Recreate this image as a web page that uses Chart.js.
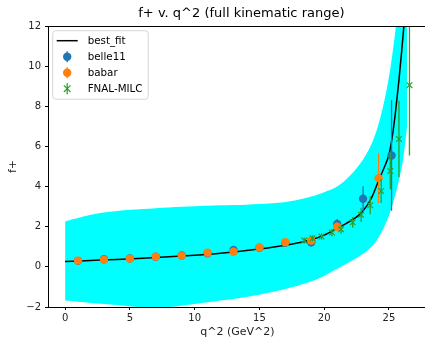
<!DOCTYPE html>
<html>
<head>
<meta charset="utf-8">
<script src="https://cdn.jsdelivr.net/npm/chart.js@4.4.1/dist/chart.umd.min.js"></script>
<style>
  html, body { margin: 0; padding: 0; background: #fff; overflow: hidden; }
  #wrap { width: 432px; height: 340px; }
</style>
</head>
<body>
<div id="wrap"><canvas id="myChart" width="432" height="340"></canvas></div>
<script>
// best fit curve and its uncertainty band
const fitQ2 = [0, 2, 4, 6, 8, 10, 12, 14, 16, 17, 18, 19, 20, 21, 22, 22.7, 23.3, 23.7, 24.23, 24.6, 25.0, 25.26, 25.5, 25.77, 26.0, 26.15, 26.3];
const fitF = [0.27, 0.32, 0.37, 0.43, 0.50, 0.58, 0.68, 0.82, 0.98, 1.08, 1.20, 1.35, 1.58, 1.92, 2.28, 2.59, 3.05, 3.5, 4.35, 4.9, 5.6, 6.5, 7.7, 9.3, 10.9, 12.0, 13.5];

const bandQ2 = [0, 2, 4, 6, 8, 10, 12, 14, 16, 17, 18, 19, 20, 21, 22, 23, 23.8, 24.4, 24.9, 25.2, 25.5, 25.8, 26.1, 26.4];
const bandHigh = [2.26, 2.59, 2.78, 2.88, 2.96, 3.02, 3.07, 3.10, 3.17, 3.23, 3.34, 3.50, 3.72, 4.0, 4.55, 5.35, 6.35, 7.6, 9.1, 10.3, 11.8, 13.8, 15.8, 18.0];
const bandLow = [-1.68, -1.80, -1.90, -2.02, -2.0, -1.85, -1.68, -1.50, -1.25, -1.10, -0.93, -0.72, -0.45, -0.10, 0.25, 0.65, 1.1, 1.7, 2.4, 2.95, 3.6, 4.4, 5.4, 7.0];

// measurements
const belleQ2 = [1, 3, 5, 7, 9, 11, 13, 15, 17, 19, 21, 23, 25.2];
const belleF = [0.30, 0.38, 0.42, 0.50, 0.57, 0.68, 0.84, 0.95, 1.20, 1.22, 2.14, 3.39, 5.55];
const belleErr = [0.05, 0.05, 0.05, 0.05, 0.06, 0.07, 0.08, 0.10, 0.14, 0.20, 0.25, 0.62, 2.75];

const babarQ2 = [1, 3, 5, 7, 9, 11, 13, 15, 17, 19, 21, 24.2];
const babarF = [0.31, 0.36, 0.41, 0.51, 0.56, 0.70, 0.75, 0.96, 1.23, 1.31, 2.0, 4.42];
const babarErr = [0.03, 0.03, 0.03, 0.03, 0.04, 0.05, 0.06, 0.08, 0.10, 0.12, 0.20, 1.25];

const fnalQ2 = [18.46, 19.1, 19.8, 20.6, 21.3, 22.2, 22.85, 23.55, 24.4, 25.1, 25.77, 26.58];
const fnalF = [1.31, 1.43, 1.51, 1.71, 1.87, 2.22, 2.59, 3.07, 3.78, 4.77, 6.37, 9.05];
const fnalErr = [0.15, 0.15, 0.16, 0.18, 0.22, 0.27, 0.35, 0.45, 0.6, 0.9, 1.9, 3.5];

const xTicks = [0, 5, 10, 15, 20, 25];
const yTicks = [-2, 0, 2, 4, 6, 8, 10, 12];

const pts = (xs, ys) => xs.map((x, i) => ({ x: x, y: ys[i] }));
const minus = v => String(v).replace('-', '\u2212');

Chart.defaults.font.family = "'DejaVu Sans', sans-serif";
Chart.defaults.color = '#222';

// vertical error bars, drawn under the markers of their dataset
const errorBars = {
  id: 'errorBars',
  beforeDatasetDraw(chart, args) {
    const ds = chart.data.datasets[args.index];
    if (!ds.yErr) return;
    const ctx = chart.ctx, a = chart.chartArea;
    const xs = chart.scales.x, ys = chart.scales.y;
    ctx.save();
    ctx.beginPath();
    ctx.rect(a.left, a.top, a.right - a.left, a.bottom - a.top);
    ctx.clip();
    ctx.strokeStyle = ds.borderColor;
    ctx.lineWidth = 1.3;
    ctx.beginPath();
    ds.data.forEach((p, i) => {
      const px = xs.getPixelForValue(p.x);
      ctx.moveTo(px, ys.getPixelForValue(p.y - ds.yErr[i]));
      ctx.lineTo(px, ys.getPixelForValue(p.y + ds.yErr[i]));
    });
    ctx.stroke();
    ctx.restore();
  }
};

// top/right spines, title and boxed legend like matplotlib
const frame = {
  id: 'frame',
  afterDatasetsDraw(chart) {
    const ctx = chart.ctx, a = chart.chartArea;
    ctx.save();
    ctx.strokeStyle = '#000';
    ctx.lineWidth = 1;
    ctx.beginPath();
    ctx.moveTo(a.left, a.top + 0.5);
    ctx.lineTo(a.right, a.top + 0.5);
    ctx.lineTo(a.right, a.bottom);
    ctx.stroke();
    ctx.restore();
  },
  afterDraw(chart) {
    const ctx = chart.ctx, a = chart.chartArea;
    ctx.save();
    ctx.fillStyle = '#000';
    ctx.font = "13px 'DejaVu Sans'";
    ctx.textAlign = 'center';
    ctx.textBaseline = 'middle';
    ctx.fillText('f+ v. q^2 (full kinematic range)', (a.left + a.right) / 2 + 4, 14);

    const x0 = a.left + 4.7, y0 = a.top + 4.7, w = 95.5, h = 68.5, r = 3;
    ctx.beginPath();
    ctx.moveTo(x0 + r, y0);
    ctx.arcTo(x0 + w, y0, x0 + w, y0 + h, r);
    ctx.arcTo(x0 + w, y0 + h, x0, y0 + h, r);
    ctx.arcTo(x0, y0 + h, x0, y0, r);
    ctx.arcTo(x0, y0, x0 + w, y0, r);
    ctx.closePath();
    ctx.fillStyle = 'rgba(255,255,255,0.8)';
    ctx.fill();
    ctx.strokeStyle = '#d6d6d6';
    ctx.lineWidth = 1;
    ctx.stroke();

    const items = chart.data.datasets.filter(d => d.inLegend);
    ctx.font = "10.3px 'DejaVu Sans'";
    ctx.textAlign = 'left';
    items.forEach((d, i) => {
      const cy = y0 + 10 + i * 16;
      const cx = x0 + 14.5;
      ctx.strokeStyle = d.borderColor;
      ctx.fillStyle = d.backgroundColor;
      if (d.inLegend === 'line') {
        ctx.lineWidth = 1.5;
        ctx.beginPath();
        ctx.moveTo(x0 + 4, cy);
        ctx.lineTo(x0 + 25, cy);
        ctx.stroke();
      } else {
        ctx.lineWidth = 1.3;
        ctx.beginPath();
        ctx.moveTo(cx, cy - 5.5);
        ctx.lineTo(cx, cy + 5.5);
        ctx.stroke();
        if (d.inLegend === 'dot') {
          ctx.beginPath();
          ctx.arc(cx, cy, 4.2, 0, Math.PI * 2);
          ctx.fill();
        } else {
          const s = 3.3;
          ctx.lineWidth = 1.2;
          ctx.beginPath();
          ctx.moveTo(cx - s, cy - s); ctx.lineTo(cx + s, cy + s);
          ctx.moveTo(cx - s, cy + s); ctx.lineTo(cx + s, cy - s);
          ctx.stroke();
        }
      }
      ctx.fillStyle = '#000';
      ctx.fillText(d.label, x0 + 35, cy + 0.5);
    });
    ctx.restore();
  }
};

const ctx = document.getElementById('myChart');

new Chart(ctx, {
  type: 'scatter',
  data: {
    datasets: [
      {
        label: 'best_fit',
        data: pts(fitQ2, fitF),
        showLine: true,
        borderColor: '#000',
        backgroundColor: '#000',
        borderWidth: 1.5,
        pointRadius: 0,
        cubicInterpolationMode: 'monotone',
        order: 4,
        inLegend: 'line',
      },
      {
        label: 'belle11',
        data: pts(belleQ2, belleF),
        yErr: belleErr,
        borderColor: '#1f77b4',
        backgroundColor: '#1f77b4',
        pointRadius: 4.2,
        pointBorderWidth: 0,
        order: 3,
        inLegend: 'dot',
      },
      {
        label: 'babar',
        data: pts(babarQ2, babarF),
        yErr: babarErr,
        borderColor: '#ff7f0e',
        backgroundColor: '#ff7f0e',
        pointRadius: 4.2,
        pointBorderWidth: 0,
        order: 2,
        inLegend: 'dot',
      },
      {
        label: 'FNAL-MILC',
        data: pts(fnalQ2, fnalF),
        yErr: fnalErr,
        borderColor: '#2ca02c',
        backgroundColor: '#2ca02c',
        pointStyle: 'crossRot',
        pointRadius: 4,
        pointBorderWidth: 1.2,
        order: 1,
        inLegend: 'cross',
      },
      {
        label: 'band_high',
        data: pts(bandQ2, bandHigh),
        showLine: true,
        borderWidth: 0,
        borderColor: 'rgba(0,0,0,0)',
        pointRadius: 0,
        tension: 0.35,
        fill: false,
        order: 5,
      },
      {
        label: 'band_low',
        data: pts(bandQ2, bandLow),
        showLine: true,
        borderWidth: 0,
        borderColor: 'rgba(0,0,0,0)',
        backgroundColor: '#00ffff',
        pointRadius: 0,
        tension: 0.35,
        fill: '-1',
        order: 6,
      },
    ],
  },
  options: {
    responsive: false,
    devicePixelRatio: 1,
    animation: false,
    layout: { padding: { top: 26, right: 4, left: 0, bottom: 0 } },
    plugins: {
      legend: { display: false },
      tooltip: { enabled: false },
      title: { display: false },
    },
    scales: {
      x: {
        type: 'linear',
        min: -1.32,
        max: 27.92,
        afterFit: s => { s.height = 33; },
        afterBuildTicks: s => { s.ticks = xTicks.map(v => ({ value: v })); },
        ticks: { includeBounds: false, padding: 2, font: { size: 10 }, color: '#222', callback: minus, maxRotation: 0 },
        grid: { drawOnChartArea: false, drawTicks: true, tickLength: 3, tickColor: '#000' },
        border: { display: true, color: '#000', width: 1 },
        title: { display: true, text: 'q^2 (GeV^2)', font: { size: 11 }, color: '#222', padding: { top: 0, bottom: 1 } },
      },
      y: {
        min: -2,
        max: 12,
        afterFit: s => { s.width = 48; },
        afterBuildTicks: s => { s.ticks = yTicks.map(v => ({ value: v })); },
        ticks: { padding: 4, font: { size: 10 }, color: '#222', callback: minus },
        grid: { drawOnChartArea: false, drawTicks: true, tickLength: 3, tickColor: '#000' },
        border: { display: true, color: '#000', width: 1 },
        title: { display: true, text: 'f+', font: { size: 11 }, color: '#222', padding: { top: 7, bottom: 0 } },
      },
    },
  },
  plugins: [errorBars, frame],
});
</script>
</body>
</html>
